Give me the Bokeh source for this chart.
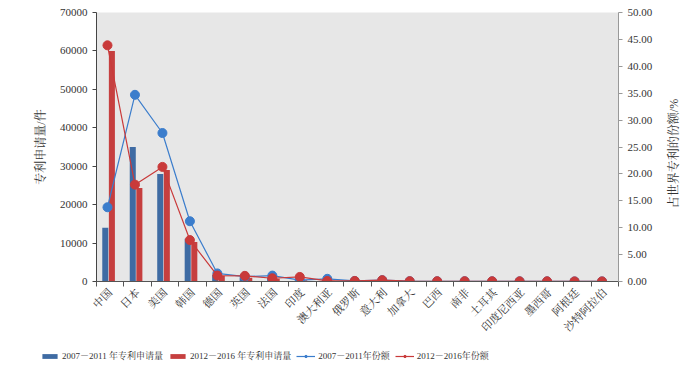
import math
from bokeh.plotting import figure
from bokeh.layouts import column, row
from bokeh.models import (ColumnDataSource, Range1d, LinearAxis, FixedTicker,
                          NumeralTickFormatter, Legend, LegendItem, Label)
from bokeh.transform import dodge
from bokeh.embed import file_html
from bokeh.resources import INLINE

countries = ["中国", "日本", "美国", "韩国", "德国", "英国", "法国", "印度", "澳大利亚",
             "俄罗斯", "意大利", "加拿大", "巴西", "南非", "土耳其", "印度尼西亚",
             "墨西哥", "阿根廷", "沙特阿拉伯"]
apps_0711 = [14000, 35000, 28000, 11100, 1700, 1100, 900, 200, 400, 100, 150, 60, 50, 40, 30, 20, 20, 10, 10]
apps_1216 = [60000, 24300, 29000, 10300, 1400, 1000, 700, 300, 200, 100, 150, 60, 50, 40, 30, 20, 20, 10, 10]
share_0711 = [13.8, 34.7, 27.6, 11.2, 1.5, 0.9, 1.1, 0.25, 0.5, 0.1, 0.25, 0.06, 0.05, 0.05, 0.04, 0.03, 0.03, 0.02, 0.02]
share_1216 = [43.9, 18.0, 21.3, 7.7, 1.1, 1.05, 0.6, 0.85, 0.1, 0.1, 0.25, 0.06, 0.05, 0.05, 0.04, 0.03, 0.03, 0.02, 0.02]
left_ticks = [0, 10000, 20000, 30000, 40000, 50000, 60000, 70000]
right_ticks = [0, 5, 10, 15, 20, 25, 30, 35, 40, 45, 50]
legend_labels = ["2007－2011 年专利申请量", "2012－2016 年专利申请量",
                 "2007－2011年份额", "2012－2016年份额"]
left_title = "专利申请量/件"
right_title = "占世界专利的份额/%"

FONT = "Liberation Serif, Noto Serif CJK SC, Noto Sans CJK SC"
TXT = "#333333"
BAR_BLUE = "#3F6BA3"
BAR_RED = "#C63F3F"
LINE_BLUE = "#3B7DCC"
LINE_RED = "#C93A3A"

n = len(countries)
xs = [i + 0.5 for i in range(n)]
src = ColumnDataSource(dict(x=xs, a1=apps_0711, a2=apps_1216, s1=share_0711, s2=share_1216))


def no_align(fig):
    try:
        fig.frame_align = False
    except Exception:
        pass


def add_series(fig, visible=True):
    b1 = fig.vbar(x=dodge("x", -0.18), top="a1", width=0.22, source=src,
                  fill_color=BAR_BLUE, line_color=None, visible=visible)
    b2 = fig.vbar(x=dodge("x", 0.06), top="a2", width=0.22, source=src,
                  fill_color=BAR_RED, line_color=None, visible=visible)
    l1 = fig.line(x=dodge("x", -0.1), y="s1", source=src, y_range_name="pct",
                  line_color=LINE_BLUE, line_width=1.2, visible=visible)
    c1 = fig.scatter(x=dodge("x", -0.1), y="s1", source=src, y_range_name="pct",
                     size=9, fill_color=LINE_BLUE, line_color=LINE_BLUE, visible=visible)
    l2 = fig.line(x=dodge("x", -0.1), y="s2", source=src, y_range_name="pct",
                  line_color=LINE_RED, line_width=1.2, visible=visible)
    c2 = fig.scatter(x=dodge("x", -0.1), y="s2", source=src, y_range_name="pct",
                     size=9, fill_color=LINE_RED, line_color=LINE_RED, visible=visible)
    return b1, b2, l1, c1, l2, c2


p = figure(width=662, height=340, output_backend="svg", toolbar_location=None,
           x_range=Range1d(0, n), y_range=Range1d(0, 70000),
           min_border_left=96, min_border_right=44, min_border_top=12, min_border_bottom=59)
no_align(p)
p.background_fill_color = "#e7e7e7"
p.border_fill_color = "white"
p.outline_line_color = None
p.xgrid.visible = False
p.ygrid.visible = False
p.extra_y_ranges = {"pct": Range1d(0, 50)}
add_series(p)

# x axis: labels at centers, ticks at boundaries (minor ticks)
xa = p.xaxis[0]
xa.ticker = FixedTicker(ticks=xs, minor_ticks=list(range(n + 1)))
xa.major_label_overrides = {x: c for x, c in zip(xs, countries)}
xa.major_label_orientation = math.pi / 4
xa.major_tick_out = 0
xa.major_tick_in = 0
xa.minor_tick_out = 5
xa.minor_tick_in = 0
xa.minor_tick_line_color = "#555555"
xa.axis_line_color = "#555555"
xa.major_label_text_font = FONT
xa.major_label_text_font_size = "11px"
xa.major_label_text_color = TXT
xa.major_label_standoff = 4

ya = p.yaxis[0]
ya.ticker = FixedTicker(ticks=left_ticks)
ya.formatter = NumeralTickFormatter(format="0")
ya.axis_label = left_title
ya.axis_label_text_font = FONT
ya.axis_label_text_font_size = "12px"
ya.axis_label_text_font_style = "normal"
ya.axis_label_text_color = TXT
ya.axis_label_standoff = 9
ya.major_label_text_font = FONT
ya.major_label_text_font_size = "11px"
ya.major_label_text_color = TXT
ya.major_tick_out = 4
ya.major_tick_in = 0
ya.minor_tick_out = 0
ya.minor_tick_in = 0
ya.axis_line_color = "#444444"
ya.major_tick_line_color = "#444444"

ra = LinearAxis(y_range_name="pct", ticker=FixedTicker(ticks=right_ticks),
                formatter=NumeralTickFormatter(format="0.00"))
ra.major_label_text_font = FONT
ra.major_label_text_font_size = "11px"
ra.major_label_text_color = TXT
ra.major_tick_out = 4
ra.major_tick_in = 0
ra.minor_tick_out = 0
ra.minor_tick_in = 0
ra.axis_line_color = "#999999"
ra.major_tick_line_color = "#999999"
p.add_layout(ra, "right")

# narrow strip holding the right-axis title (reads bottom to top)
rf = figure(width=38, height=340, output_backend="svg", toolbar_location=None,
            x_range=Range1d(0, 1), y_range=Range1d(0, 1),
            x_axis_location=None, y_axis_location=None,
            min_border_left=0, min_border_right=0, min_border_top=0, min_border_bottom=0)
no_align(rf)
rf.grid.visible = False
rf.outline_line_color = None
rf.add_layout(Label(x=0.3, y=0.55, text=right_title, angle=math.pi / 2,
                    text_align="center", text_baseline="middle",
                    text_font=FONT, text_font_size="12px", text_color=TXT))

# legend strip below the chart
lf = figure(width=700, height=39, output_backend="svg", toolbar_location=None,
            x_range=Range1d(0, n), y_range=Range1d(0, 70000),
            x_axis_location=None, y_axis_location=None,
            min_border_left=0, min_border_right=0, min_border_top=0, min_border_bottom=0)
no_align(lf)
lf.extra_y_ranges = {"pct": Range1d(0, 50)}
lf.grid.visible = False
lf.outline_line_color = None
lf.background_fill_color = "white"
lb1, lb2, ll1, lc1, ll2, lc2 = add_series(lf, visible=False)

legend = Legend(items=[
    LegendItem(label=legend_labels[0], renderers=[lb1]),
    LegendItem(label=legend_labels[1], renderers=[lb2]),
    LegendItem(label=legend_labels[2], renderers=[ll1, lc1]),
    LegendItem(label=legend_labels[3], renderers=[ll2, lc2]),
], orientation="horizontal", location=(40, 17), click_policy="none")
legend.label_text_font = FONT
legend.label_text_font_size = "9px"
legend.label_text_color = TXT
legend.border_line_color = None
legend.background_fill_alpha = 0
legend.glyph_width = 19
legend.glyph_height = 6
legend.label_standoff = 3
legend.spacing = 5
legend.padding = 2
legend.margin = 0
lf.add_layout(legend, "center")

layout = column(row(p, rf, spacing=0), lf, spacing=0)
open("out.html", "w").write(file_html(layout, INLINE))
